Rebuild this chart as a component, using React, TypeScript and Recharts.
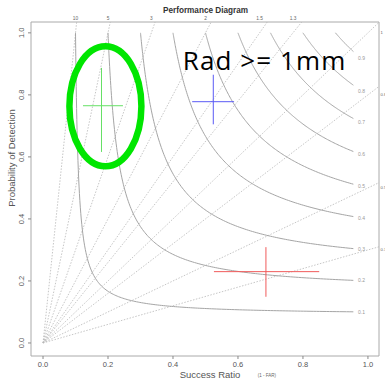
import React from 'react';
import { ComposedChart, Line, XAxis, YAxis, ReferenceArea, ReferenceDot, ReferenceLine } from 'recharts';

// ---- axis / reference values ----
const SR_TICKS = [0, 0.2, 0.4, 0.6, 0.8, 1.0];
const POD_TICKS = [0, 0.2, 0.4, 0.6, 0.8, 1.0];
const X_MIN = -0.037;
const X_MAX = 1.034;
const Y_MIN = -0.042;
const Y_MAX = 1.035;

const BIAS_LEVELS = [0.3, 0.5, 0.8, 1, 1.3, 1.5, 2, 3, 5, 10];
const BIAS_TOP_LABELS = [10, 5, 3, 2, 1.5, 1.3];
const BIAS_RIGHT_LABELS = [1, 0.8, 0.5, 0.3];
const CSI_LEVELS = [0.1, 0.2, 0.3, 0.4, 0.5, 0.6, 0.7, 0.8, 0.9];
const CSI_LINE_END = 0.955;
const CSI_LABEL_SR = 0.98;

// ---- observations (success ratio / POD with ranges) ----
const OBS_SR = [0.18, 0.524, 0.686];
const OBS_POD = [0.765, 0.778, 0.23];
const OBS_SR_LO = [0.123, 0.459, 0.526];
const OBS_SR_HI = [0.246, 0.588, 0.85];
const OBS_POD_LO = [0.616, 0.705, 0.149];
const OBS_POD_HI = [0.887, 0.865, 0.309];
const OBS_COLORS = ['#66e066', '#5a5af5', '#f05a5a'];

// highlight annotation
const HIGHLIGHT_SR = 0.192;
const HIGHLIGHT_POD = 0.763;
const NOTE_SR = 0.43;
const NOTE_POD = 0.88;
const NOTE_TEXT = 'Rad >= 1mm';

// ---- derived tables for the library ----
const csiPod = (c: number, sr: number) => 1 / (1 / c + 1 - 1 / sr);
const csiCurves = CSI_LEVELS.map((c) => {
  const pts: { x: number; y: number }[] = [];
  const N = 160;
  for (let i = 0; i <= N; i++) {
    const sr = c + (CSI_LINE_END - c) * Math.pow(i / N, 2);
    pts.push({ x: sr, y: csiPod(c, sr) });
  }
  return { c, pts };
});
const biasLines = BIAS_LEVELS.map((b) => {
  const xe = Math.min(X_MAX, Y_MAX / b);
  return { b, pts: [{ x: 0, y: 0 }, { x: xe, y: b * xe }] };
});
const topTicks = BIAS_TOP_LABELS.map((b) => 1 / b);

const FONT = '"Liberation Sans", Arial, sans-serif';

const YTick = (props: any) => {
  const { x, y, payload } = props;
  return (
    <text
      x={x}
      y={y}
      transform={`rotate(-90, ${x}, ${y})`}
      textAnchor="middle"
      fontFamily={FONT}
      fontSize={7.5}
      fill="#555"
    >
      {Number(payload.value).toFixed(1)}
    </text>
  );
};

const EllipseShape = (props: any) => (
  <ellipse cx={props.cx} cy={props.cy} rx={36} ry={60} fill="none" stroke="#00e600" strokeWidth={6.5} />
);

const NoteShape = (props: any) => (
  <text x={props.cx} y={props.cy} fontFamily='"Open Sans", sans-serif' fontSize={26} letterSpacing={1.1} fill="#000">
    {NOTE_TEXT}
  </text>
);

export default function App() {
  return (
    <div style={{ position: 'absolute', left: 0, top: 0, width: 385, height: 380, background: '#fff', overflow: 'hidden' }}>
      <ComposedChart width={385} height={380} margin={{ top: 0, right: 0, bottom: 0, left: 0 }}>
        <XAxis
          dataKey="x"
          type="number"
          domain={[X_MIN, X_MAX]}
          allowDataOverflow
          ticks={SR_TICKS}
          interval={0}
          tickFormatter={(v: number) => v.toFixed(1)}
          height={24}
          axisLine={false}
          tickLine={{ stroke: '#888' }}
          tickSize={3}
          tickMargin={3}
          tick={{ fontFamily: FONT, fontSize: 7.5, fill: '#555' }}
        />
        <XAxis
          xAxisId="t"
          orientation="top"
          dataKey="x"
          type="number"
          domain={[X_MIN, X_MAX]}
          allowDataOverflow
          ticks={topTicks}
          interval={0}
          tickFormatter={(_v: number, i: number) => String(BIAS_TOP_LABELS[i])}
          height={22}
          axisLine={false}
          tickLine={false}
          tickSize={0}
          tickMargin={2}
          tick={{ fontFamily: FONT, fontSize: 4.8, fill: '#666' }}
        />
        <YAxis
          type="number"
          domain={[Y_MIN, Y_MAX]}
          allowDataOverflow
          ticks={POD_TICKS}
          interval={0}
          width={31}
          axisLine={false}
          tickLine={{ stroke: '#888' }}
          tickSize={3}
          tickMargin={4}
          tick={(p: any) => <YTick {...p} />}
        />
        <YAxis
          yAxisId="r"
          orientation="right"
          type="number"
          domain={[Y_MIN, Y_MAX]}
          allowDataOverflow
          ticks={BIAS_RIGHT_LABELS}
          interval={0}
          width={6}
          axisLine={false}
          tickLine={false}
          tickSize={0}
          tickMargin={1.5}
          tick={{ fontFamily: FONT, fontSize: 4.2, fill: '#666' }}
        />
        <ReferenceArea x1={X_MIN} x2={X_MAX} y1={Y_MIN} y2={Y_MAX} fill="none" stroke="#aaa" strokeWidth={1} fillOpacity={0} />
        {biasLines.map((bl) => (
          <Line
            key={'b' + bl.b}
            data={bl.pts}
            dataKey="y"
            type="linear"
            dot={false}
            stroke="#b8b8b8"
            strokeWidth={0.8}
            strokeDasharray="1.5 1.5"
            isAnimationActive={false}
          />
        ))}
        {csiCurves.map((cc) => (
          <Line
            key={'c' + cc.c}
            data={cc.pts}
            dataKey="y"
            type="linear"
            dot={false}
            stroke="#a5a5a5"
            strokeWidth={1}
            isAnimationActive={false}
          />
        ))}
        {CSI_LEVELS.map((c) => (
          <ReferenceDot
            key={'cl' + c}
            x={CSI_LABEL_SR}
            y={csiPod(c, CSI_LABEL_SR)}
            r={0}
            shape={(p: any) => (
              <text x={p.cx} y={p.cy} dy="0.35em" textAnchor="middle" fontFamily={FONT} fontSize={5} fill="#999">
                {c.toFixed(1)}
              </text>
            )}
          />
        ))}
        {OBS_SR.map((sr, i) => (
          <ReferenceLine
            key={'h' + i}
            segment={[
              { x: OBS_SR_LO[i], y: OBS_POD[i] },
              { x: OBS_SR_HI[i], y: OBS_POD[i] },
            ]}
            stroke={OBS_COLORS[i]}
            strokeWidth={1}
          />
        ))}
        {OBS_SR.map((sr, i) => (
          <ReferenceLine
            key={'v' + i}
            segment={[
              { x: sr, y: OBS_POD_LO[i] },
              { x: sr, y: OBS_POD_HI[i] },
            ]}
            stroke={OBS_COLORS[i]}
            strokeWidth={1}
          />
        ))}
        <ReferenceDot x={HIGHLIGHT_SR} y={HIGHLIGHT_POD} r={0} shape={(p: any) => <EllipseShape {...p} />} />
        <ReferenceDot x={NOTE_SR} y={NOTE_POD} r={0} shape={(p: any) => <NoteShape {...p} />} />
      </ComposedChart>
      <svg width={385} height={380} style={{ position: 'absolute', left: 0, top: 0, pointerEvents: 'none' }}>
        <text x={205.5} y={13} textAnchor="middle" fontFamily={FONT} fontWeight="bold" fontSize={8.2} fill="#333">
          Performance Diagram
        </text>
        <text x={210} y={378} textAnchor="middle" fontFamily={FONT} fontSize={9.5} fill="#555">
          Success Ratio
        </text>
        <text x={267} y={377} textAnchor="middle" fontFamily={FONT} fontSize={4.5} fill="#666">
          (1 - FAR)
        </text>
        <text
          x={15}
          y={158}
          transform="rotate(-90, 15, 158)"
          textAnchor="middle"
          fontFamily={FONT}
          fontSize={9.5}
          fill="#555"
        >
          Probability of Detection
        </text>
      </svg>
    </div>
  );
}
